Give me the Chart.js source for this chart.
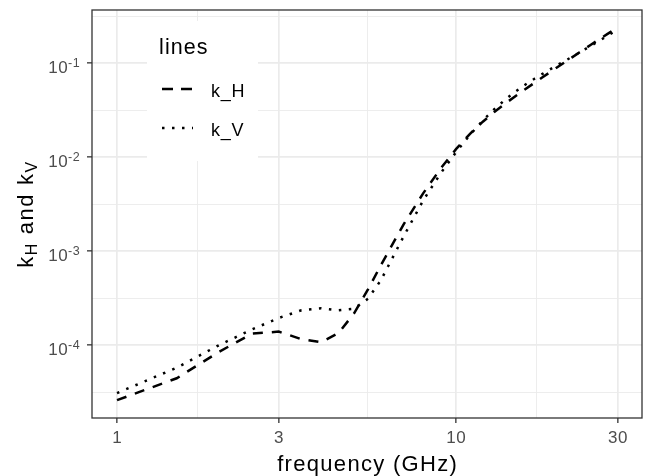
<!DOCTYPE html>
<html>
<head>
<meta charset="utf-8">
<script src="https://cdn.jsdelivr.net/npm/chart.js@4.4.1/dist/chart.umd.min.js"></script>
<style>
  html, body { margin: 0; padding: 0; background: #fff; }
  canvas { display: block; }
</style>
</head>
<body>
<canvas id="chart" width="653" height="476"></canvas>
<script>
// frequency (GHz) and specific attenuation coefficients
const freqs = [1, 1.5, 2, 2.5, 3, 3.5, 4, 4.5, 5, 5.5, 6, 7, 8, 9, 10, 11, 12, 13, 14, 15,
	16, 17, 18, 19, 20, 21, 22, 23, 24, 25, 26, 27, 28, 29, 30];
const kH = [0.0000259, 0.0000443, 0.0000847, 0.0001321, 0.0001390, 0.0001155, 0.0001071,
	0.0001340, 0.0002162, 0.0003909, 0.0007056, 0.001915, 0.004115, 0.007535, 0.01217,
	0.01772, 0.02386, 0.03041, 0.03738, 0.04481, 0.05282, 0.06146, 0.07078, 0.08084,
	0.09164, 0.1032, 0.1155, 0.1286, 0.1425, 0.1571, 0.1724, 0.1884, 0.2051, 0.2224, 0.2403];
const kV = [0.0000308, 0.0000574, 0.0000998, 0.0001464, 0.0001942, 0.0002346, 0.0002461,
	0.0002347, 0.0002428, 0.0003115, 0.0004878, 0.001425, 0.003450, 0.006691, 0.01129,
	0.01731, 0.02455, 0.03266, 0.04126, 0.05008, 0.05899, 0.06797, 0.07708, 0.08642,
	0.09611, 0.1063, 0.1170, 0.1284, 0.1404, 0.1533, 0.1669, 0.1813, 0.1964, 0.2124, 0.2291];

const seriesNames = ['k_H', 'k_V'];
const xMajor = [1, 3, 10, 30];
const xMinor = [1.732, 5.477, 17.32];
const yMajorExp = [-4, -3, -2, -1];
const yMinorExp = [-4.5, -3.5, -2.5, -1.5, -0.5];

const FONT = "'Liberation Sans', Arial, sans-serif";
const GRID = '#EBEBEB';
const INK = '#333333';
const TICK_TEXT = '#4D4D4D';
const DASH_H = [10, 9];
const DASH_V = [2.5, 7.5];

function drawText( ctx, str, x, y, size, color, align, spacing ) {
	ctx.font = size + 'px ' + FONT;
	ctx.fillStyle = color;
	ctx.textAlign = align || 'left';
	ctx.textBaseline = 'alphabetic';
	ctx.letterSpacing = ( spacing || 0 ) + 'px';
	const shift = ( align === 'center' ) ? ( spacing || 0 ) / 2 : 0;
	ctx.fillText( str, x + shift, y );
	ctx.letterSpacing = '0px';
}

function measure( ctx, str, size, spacing ) {
	ctx.font = size + 'px ' + FONT;
	ctx.letterSpacing = ( spacing || 0 ) + 'px';
	const w = ctx.measureText( str ).width;
	ctx.letterSpacing = '0px';
	return w;
}

const isMajor = function ( list, v ) {
	return list.some( function ( m ) { return Math.abs( Math.log10( m ) - Math.log10( v ) ) < 1e-3; } );
};

const isDecade = function ( v ) {
	const e = Math.log10( v );
	return Math.abs( e - Math.round( e ) ) < 1e-3;
};

// white legend box inside the panel, drawn over the grid, plus all axis text
const legendPlugin = {
	id: 'insideLegend',
	beforeDatasetsDraw( chart ) {
		const ctx = chart.ctx;
		const a = chart.chartArea;
		const left = a.left + 55, top = a.top + 11;
		ctx.save();
		ctx.fillStyle = '#ffffff';
		ctx.fillRect( left, top, 111, 140 );

		drawText( ctx, 'lines', left + 12, top + 33, 21.5, '#000', 'left', 1.1 );

		const keyDash = [ [11, 8], DASH_V ];
		seriesNames.forEach( function ( name, i ) {
			const y = top + 68 + i * 39;
			ctx.beginPath();
			ctx.strokeStyle = '#000';
			ctx.lineWidth = 2.5;
			ctx.lineCap = 'butt';
			ctx.setLineDash( keyDash[ i ] );
			ctx.moveTo( left + 15, y );
			ctx.lineTo( left + 46, y );
			ctx.stroke();
			ctx.setLineDash( [] );
			drawText( ctx, name, left + 64, y + 8, 18, '#000', 'left', 0.8 );
		} );
		ctx.restore();
	},
	afterDraw( chart ) {
		const ctx = chart.ctx;
		const a = chart.chartArea;
		const xs = chart.scales.x, ys = chart.scales.y;
		ctx.save();

		// panel border
		ctx.strokeStyle = INK;
		ctx.lineWidth = 1.3;
		ctx.strokeRect( a.left, a.top, a.right - a.left, a.bottom - a.top );

		// x tick labels
		xMajor.forEach( function ( v ) {
			drawText( ctx, String( v ), xs.getPixelForValue( v ), a.bottom + 25, 17, TICK_TEXT, 'center', 0.5 );
		} );

		// y tick labels 10^n
		yMajorExp.forEach( function ( e ) {
			const py = ys.getPixelForValue( Math.pow( 10, e ) );
			const sup = String( e );
			const supW = measure( ctx, sup, 12.5, 0.4 );
			const right = a.left - 12;
			drawText( ctx, sup, right - supW, py + 4, 12.5, TICK_TEXT, 'left', 0.4 );
			drawText( ctx, '10', right - supW, py + 9.5, 17, TICK_TEXT, 'right', 0.5 );
		} );

		// x title
		drawText( ctx, 'frequency (GHz)', ( a.left + a.right ) / 2, 471, 22, '#000', 'center', 1.3 );

		// y title: k_H and k_V with subscripts
		const parts = [
			{ t: 'k', size: 22, dy: 0 },
			{ t: 'H', size: 16, dy: 4 },
			{ t: ' and k', size: 22, dy: 0 },
			{ t: 'V', size: 16, dy: 4 },
		];
		const sp = 1.6;
		let total = 0;
		parts.forEach( function ( p ) { p.w = measure( ctx, p.t, p.size, sp ); total += p.w; } );
		ctx.translate( 33, ( a.top + a.bottom ) / 2 );
		ctx.rotate( -Math.PI / 2 );
		let x = -total / 2;
		parts.forEach( function ( p ) {
			drawText( ctx, p.t, x, p.dy, p.size, '#000', 'left', sp );
			x += p.w;
		} );
		ctx.restore();
	},
};

const gridColor = function () { return GRID; };

new Chart( document.getElementById( 'chart' ), {
	type: 'line',
	data: {
		datasets: [
			{
				label:       seriesNames[0],
				data:        freqs.map( function ( f, i ) { return { x: f, y: kH[ i ] }; } ),
				borderColor: '#000',
				borderWidth: 2.5,
				borderDash:  DASH_H,
				borderCapStyle: 'butt',
				pointRadius: 0,
				tension:     0,
				fill:        false,
			},
			{
				label:       seriesNames[1],
				data:        freqs.map( function ( f, i ) { return { x: f, y: kV[ i ] }; } ),
				borderColor: '#000',
				borderWidth: 2.5,
				borderDash:  DASH_V,
				borderCapStyle: 'butt',
				pointRadius: 0,
				tension:     0,
				fill:        false,
			},
		],
	},
	options: {
		responsive: false,
		animation:  false,
		devicePixelRatio: 1,
		layout: { padding: { top: 10, right: 11, left: 0, bottom: 0 } },
		plugins: {
			legend:  { display: false },
			tooltip: { enabled: false },
		},
		scales: {
			x: {
				type: 'logarithmic',
				min:  0.8437,
				max:  35.38,
				afterBuildTicks: function ( s ) {
					s.ticks = xMajor.concat( xMinor ).sort( function ( a, b ) { return a - b; } )
						.map( function ( v ) { return { value: v }; } );
				},
				afterFit: function ( s ) { s.height = 58; },
				ticks:  { display: false },
				border: { display: false },
				grid: {
					color: gridColor,
					lineWidth: function ( c ) { return isMajor( xMajor, c.tick.value ) ? 1.7 : 0.9; },
					drawTicks: true,
					tickLength: 5,
					tickWidth: 1.3,
					tickColor: function ( c ) { return isMajor( xMajor, c.tick.value ) ? INK : 'rgba(0,0,0,0)'; },
				},
			},
			y: {
				type: 'logarithmic',
				min:  Math.pow( 10, -4.7766 ),
				max:  Math.pow( 10, -0.4335 ),
				afterBuildTicks: function ( s ) {
					s.ticks = yMajorExp.concat( yMinorExp ).sort( function ( a, b ) { return a - b; } )
						.map( function ( e ) { return { value: Math.pow( 10, e ) }; } );
				},
				afterFit: function ( s ) { s.width = 92; },
				ticks:  { display: false },
				border: { display: false },
				grid: {
					color: gridColor,
					lineWidth: function ( c ) { return isDecade( c.tick.value ) ? 1.7 : 0.9; },
					drawTicks: true,
					tickLength: 5,
					tickWidth: 1.3,
					tickColor: function ( c ) { return isDecade( c.tick.value ) ? INK : 'rgba(0,0,0,0)'; },
				},
			},
		},
	},
	plugins: [ legendPlugin ],
} );
</script>
</body>
</html>
